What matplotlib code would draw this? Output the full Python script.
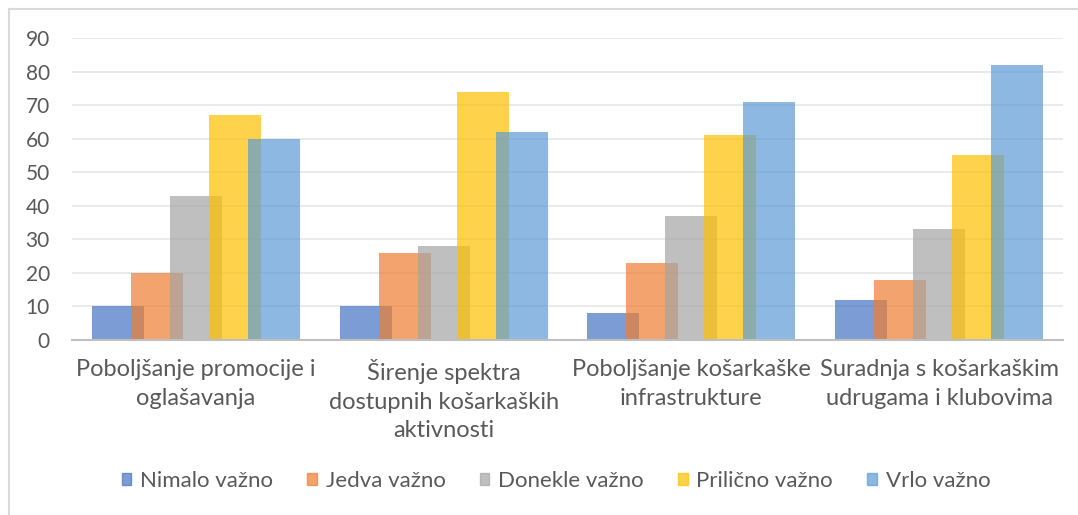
import matplotlib
matplotlib.use("Agg")
import matplotlib.pyplot as plt
import numpy as np
from matplotlib.patches import Rectangle
from matplotlib.lines import Line2D

categories = ["Poboljšanje promocije i\noglašavanja",
              "Širenje spektra\ndostupnih košarkaških\naktivnosti",
              "Poboljšanje košarkaške\ninfrastrukture",
              "Suradnja s košarkaškim\nudrugama i klubovima"]
series_names = ["Nimalo važno", "Jedva važno", "Donekle važno", "Prilično važno", "Vrlo važno"]
nimalo = [10, 10, 8, 12]
jedva = [20, 26, 23, 18]
donekle = [43, 28, 37, 33]
prilicno = [67, 74, 61, 55]
vrlo = [60, 62, 71, 82]
yticks = [0, 10, 20, 30, 40, 50, 60, 70, 80, 90]

colors = ["#4472C4", "#ED7D31", "#A5A5A5", "#FFC000", "#5B9BD5"]
values = [nimalo, jedva, donekle, prilicno, vrlo]

plt.rcParams['font.family'] = ['Lato', 'DejaVu Sans']

W, H = 1078, 515
fig = plt.figure(figsize=(W/100, H/100), dpi=100)
ax = fig.add_axes([72/W, (H-340)/H, (1063-72)/W, (340-38)/H])

x = np.arange(len(categories))
step = 39/247.75
width = 52/247.75
for i, (vals, c) in enumerate(zip(values, colors)):
    ax.bar(x + (i-2)*step, vals, width=width, color=c, alpha=0.7,
           zorder=3+i, label=series_names[i], linewidth=0)

ax.set_xlim(-0.5, 3.5)
ax.set_ylim(0, 90)
ax.set_yticks(yticks)
ax.set_yticklabels([str(t) for t in yticks], fontsize=15, color="#595959")
ax.yaxis.grid(True, color="#E6E6E6", linewidth=1.2, zorder=0)
ax.set_axisbelow(True)
ax.tick_params(axis='y', length=0, pad=16)
ax.tick_params(axis='x', length=0, pad=14)
ax.set_xticks(x)
ax.set_xticklabels(categories, fontsize=17, color="#595959", linespacing=1.42)
for s in ['top', 'right', 'left']:
    ax.spines[s].set_visible(False)
ax.spines['bottom'].set_color("#BFBFBF")
ax.spines['bottom'].set_linewidth(1.5)
ax.spines['bottom'].set_zorder(10)

handles = [Rectangle((0, 0), 1, 1, color=c, alpha=0.7) for c in colors]
leg = fig.legend(handles, series_names, loc='center', bbox_to_anchor=(556/W, (H-481)/H),
                 ncol=5, frameon=False, fontsize=16, handlelength=0.42, handleheight=0.42,
                 columnspacing=1.55, handletextpad=0.4)
for t in leg.get_texts():
    t.set_color("#595959")

# chart border
fig.add_artist(Line2D([9/W, 9/W], [0, (H-9)/H], transform=fig.transFigure, color="#D9D9D9", linewidth=1.5))
fig.add_artist(Line2D([9/W, 1], [(H-9)/H, (H-9)/H], transform=fig.transFigure, color="#D9D9D9", linewidth=1.5))

fig.savefig("out.png", dpi=100)
